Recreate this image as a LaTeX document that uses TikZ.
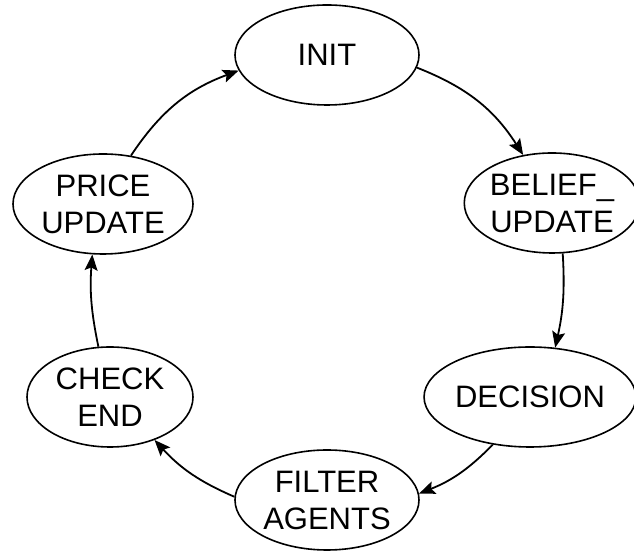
\documentclass[tikz,border=0pt]{standalone}
\usepackage{fontspec}
\setmainfont{Liberation Sans}
\usetikzlibrary{shapes.geometric,arrows.meta}
\begin{document}
\begin{tikzpicture}[x=1pt,y=1pt,
  state/.style={ellipse,draw=black,line width=1.6pt,inner sep=0pt,
    minimum width=184pt,minimum height=100pt,align=center,
    font=\fontsize{31}{37}\selectfont},
  flow/.style={line width=1.8pt,-{Stealth[length=16pt,width=13pt,inset=3pt]}}]
\useasboundingbox (0,0) rectangle (634,553);
\node[state] (init) at (327,498) {INIT};
\node[state,minimum width=166pt] (belief) at (552,350) {BELIEF\_\\UPDATE};
\node[state,minimum width=186pt] (decision) at (530,156) {DECISION};
\node[state] (filter) at (327,53) {FILTER\\AGENTS};
\node[state,minimum width=166pt] (check) at (110,156) {CHECK\\END};
\node[state,minimum width=180pt] (price) at (103,349) {PRICE\\UPDATE};
\draw[flow] (init.-8) to[bend left=18] (belief.121);
\draw[flow] (belief.-78) to[bend left=8] (decision.63);
\draw[flow] (decision.-128) to[bend left=12] (filter.4);
\draw[flow] (filter.178) to[bend left=12] (check.-44);
\draw[flow] (check.103) to[bend left=8] (price.-102);
\draw[flow] (price.60) to[bend left=18] (init.190);
\end{tikzpicture}
\end{document}
